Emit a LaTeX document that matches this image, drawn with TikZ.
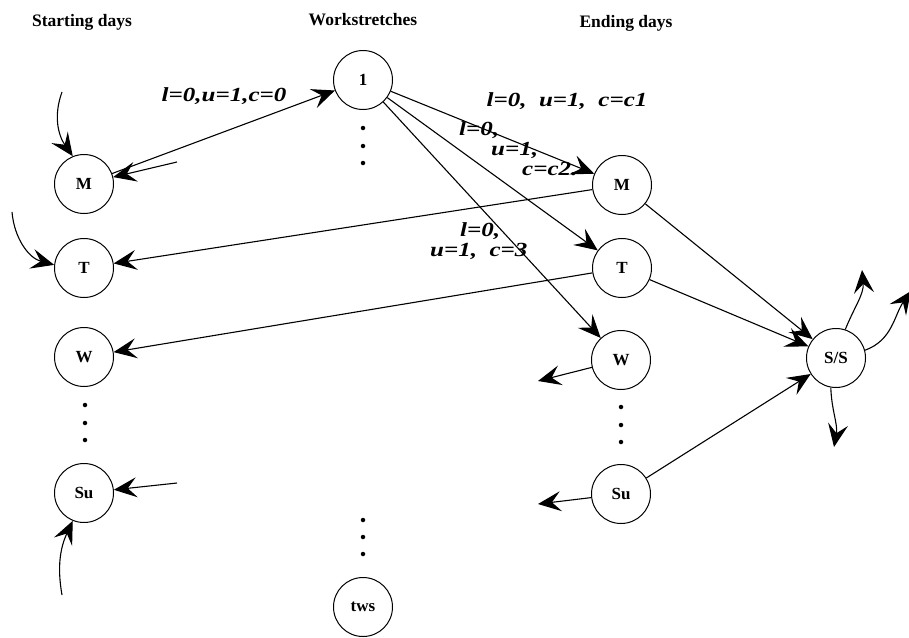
\documentclass[tikz,border=0pt]{standalone}
\usepackage{fontspec}
\setmainfont{Liberation Serif}
\newfontfamily\lblfont[FakeStretch=1.25]{Liberation Serif}
\usetikzlibrary{arrows.meta}
\tikzset{
  x=1pt, y=-1pt,
  day/.style={draw, circle, line width=1pt, minimum size=59pt, inner sep=0pt,
    font=\fontsize{17}{19}\selectfont\bfseries},
  head/.style={font=\fontsize{17.5}{20}\selectfont\bfseries},
  lbl/.style={font=\fontsize{20}{22}\selectfont\lblfont\bfseries\itshape, inner sep=0pt, align=left},
  arr/.style={line width=1.1pt, arrows={-Stealth[length=23pt 0, width=20pt 0, inset=9pt 0]}},
  dot/.style={circle, fill, inner sep=0pt, minimum size=4.5pt}
}
\begin{document}
\begin{tikzpicture}
\useasboundingbox (0,0) rectangle (909,637);
% headers
\node[head] (h1) at (82,22) {Starting days};
\node[head] (h2) at (363,20) {Workstretches};
\node[head] (h3) at (626,23) {Ending days};
% starting days
\node[day] (SM) at (84,184) {M};
\node[day] (ST) at (84,268) {T};
\node[day] (SW) at (84,357) {W};
\node[day] (SSu) at (84,493) {Su};
\node[dot] (d1) at (85,405) {};
\node[dot] (d2) at (85,423) {};
\node[dot] (d3) at (85,440) {};
% workstretches
\node[day] (W1) at (363,80) {1};
\node[dot] (d4) at (363,128) {};
\node[dot] (d5) at (363,146) {};
\node[dot] (d6) at (363,163) {};
\node[dot] (d7) at (363,520) {};
\node[dot] (d8) at (363,537) {};
\node[dot] (d9) at (363,554) {};
\node[day] (tws) at (363,607) {tws};
% ending days
\node[day] (EM) at (622,185) {M};
\node[day] (ET) at (622,268) {T};
\node[day] (EW) at (621,360) {W};
\node[day] (ESu) at (621,494) {Su};
\node[dot] (d10) at (621,407) {};
\node[dot] (d11) at (621,425) {};
\node[dot] (d12) at (621,442) {};
% sink/source
\node[day] (SS) at (836,358) {S/S};
% free ends
\coordinate (aM) at (62,92);
\coordinate (bM) at (177,162);
\coordinate (aT) at (12,212);
\coordinate (aSu) at (62,595);
\coordinate (bSu) at (177,483);
\coordinate (oW) at (538,381);
\coordinate (oSu) at (538,504);
\coordinate (o1) at (862,270);
\coordinate (o2) at (911,291);
\coordinate (o3) at (834,447);
% edges
\draw[arr] (aM) to[out=-110,in=125] (SM.112);
\draw[arr] (bM) -- (SM);
\draw[arr] (aT) to[out=-85,in=165] (ST.174);
\draw[arr] (aSu) to[out=100,in=-115] (SSu.-112);
\draw[arr] (bSu) -- (SSu);
\draw[arr] (SM) -- (W1);
\draw[arr] (W1) -- (EM);
\draw[arr] (W1) -- (ET);
\draw[arr] (W1) -- (EW);
\draw[arr] (EM) -- (ST);
\draw[arr] (ET) -- (SW);
\draw[arr] (EW) -- (oW);
\draw[arr] (ESu) -- (oSu);
\draw[arr] (EM) -- (SS);
\draw[arr] (ET) -- (SS);
\draw[arr] (ESu) -- (SS);
\draw[arr] (SS.72) to[out=68,in=-85] (o1);
\draw[arr] (SS.15) to[out=20,in=-125] (o2);
\draw[arr] (SS.-100) to[out=-88,in=80] (o3);
% labels
\node[lbl] (L1) at (224,96) {l=0,u=1,c=0};
\node[lbl] (L2) at (567,101) {l=0,\ \ u=1,\ \ c=c1};
\node[lbl, anchor=north west] (L3) at (459,121) {l=0,\\[-2pt]\hspace*{32pt}u=1,\\[-2pt]\hspace*{63pt}c=c2.};
\node[lbl, anchor=north west] (L4) at (430,222) {\hspace*{30pt}l=0,\\[-2pt]u=1,\ \ c=3};
\end{tikzpicture}
\end{document}
